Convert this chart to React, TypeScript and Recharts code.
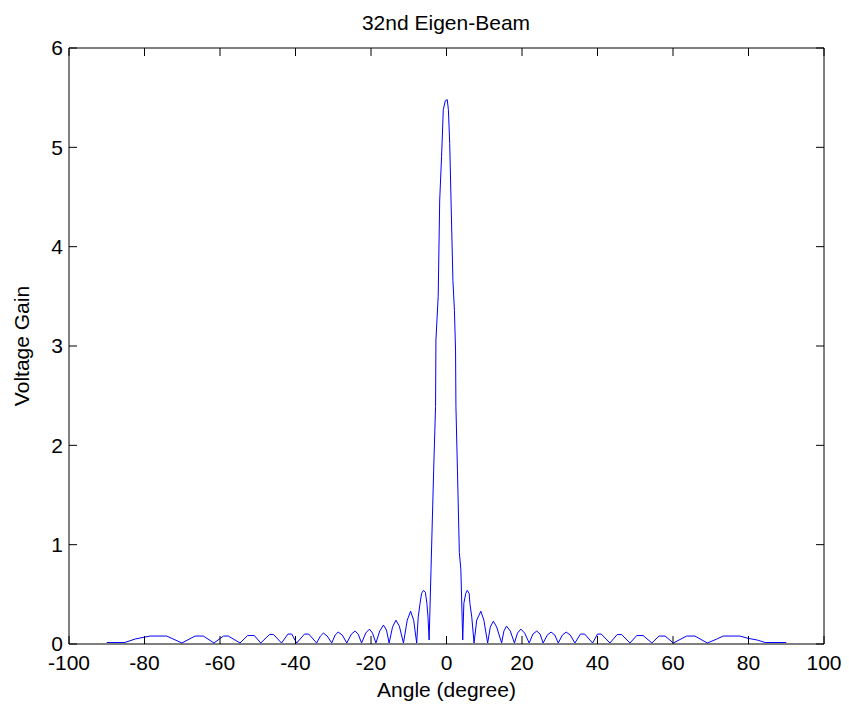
import { LineChart, Line, XAxis, YAxis } from 'recharts'

// angle samples (degree)
const angles = [
    -90.0, -85.2, -82.5, -81.2, -78.5, -74.1, -70.1, -66.6, -64.4, -61.6,
    -59.1, -57.8, -54.7, -52.7, -50.9, -49.2, -46.9, -45.8, -43.7, -42.0,
    -41.0, -39.7, -37.6, -36.5, -34.4, -33.4, -32.6, -31.6, -30.4, -29.5,
    -28.7, -27.6, -26.4, -25.2, -24.2, -23.4, -22.5, -21.4, -20.4, -19.6,
    -18.7, -17.7, -16.7, -15.9, -15.2, -14.3, -13.4, -12.5, -11.4, -10.4,
    -9.5, -8.7, -7.9, -7.5, -7.0, -6.6, -6.1, -5.6, -5.2, -4.9,
    -4.6, -4.1, -3.4, -2.9, -2.8, -2.2, -1.8, -1.3, -0.85, -0.3,
    0.2, 0.5, 0.85, 1.2, 1.7, 2.1, 2.4, 2.5, 2.9, 3.4,
    3.8, 4.3, 4.6, 5.1, 5.5, 6.0, 6.2, 6.7, 7.3, 8.0,
    9.1, 9.9, 10.9, 11.6, 12.4, 13.3, 14.6, 15.2, 15.9, 16.9,
    18.0, 18.8, 19.7, 20.7, 21.9, 22.9, 23.9, 24.8, 25.6, 26.7,
    27.7, 28.7, 29.6, 30.7, 31.7, 32.8, 34.0, 35.5, 36.6, 38.7,
    40.0, 41.0, 43.3, 45.2, 46.4, 48.6, 50.4, 52.1, 54.4, 56.3,
    57.9, 60.1, 63.6, 65.8, 69.1, 71.6, 73.3, 77.7, 79.9, 82.3,
    84.4, 90.0,
]

// voltage gain at each angle
const gains = [
    0.015, 0.015, 0.05, 0.06, 0.08, 0.08, 0.01, 0.08, 0.08, 0.01,
    0.08, 0.08, 0.01, 0.085, 0.085, 0.01, 0.095, 0.095, 0.01, 0.10,
    0.10, 0.01, 0.10, 0.10, 0.01, 0.08, 0.11, 0.08, 0.01, 0.09,
    0.12, 0.09, 0.01, 0.10, 0.13, 0.10, 0.01, 0.11, 0.15, 0.11,
    0.01, 0.13, 0.19, 0.14, 0.01, 0.17, 0.24, 0.18, 0.01, 0.24,
    0.33, 0.24, 0.01, 0.27, 0.41, 0.51, 0.54, 0.52, 0.41, 0.27,
    0.04, 0.75, 1.75, 2.39, 3.06, 3.5, 4.47, 4.91, 5.38, 5.47,
    5.48, 5.38, 5.04, 4.47, 3.66, 3.36, 2.95, 2.39, 1.75, 0.92,
    0.75, 0.04, 0.41, 0.51, 0.54, 0.51, 0.41, 0.27, 0.01, 0.24,
    0.33, 0.24, 0.01, 0.17, 0.23, 0.17, 0.01, 0.13, 0.18, 0.13,
    0.01, 0.11, 0.15, 0.11, 0.01, 0.10, 0.13, 0.10, 0.01, 0.09,
    0.12, 0.09, 0.01, 0.09, 0.12, 0.09, 0.01, 0.10, 0.10, 0.01,
    0.10, 0.10, 0.01, 0.095, 0.095, 0.01, 0.085, 0.085, 0.01, 0.08,
    0.08, 0.01, 0.08, 0.08, 0.01, 0.05, 0.08, 0.08, 0.057, 0.04,
    0.015, 0.015,
]

const xTicks = [-100, -80, -60, -40, -20, 0, 20, 40, 60, 80, 100]
const yTicks = [0, 1, 2, 3, 4, 5, 6]

const data = angles.map((a, i) => ({ angle: a, gain: gains[i] }))

const font = '"Liberation Sans", Arial, sans-serif'
const fs = 21
const tickStyle = { fill: '#000', fontSize: fs, fontFamily: font }
const noLabel = () => ''

export default function App() {
    return (
        <div style={{ position: 'absolute', left: 0, top: 0, width: 849, height: 711, background: '#fff' }}>
            <LineChart
                width={849}
                height={711}
                data={data}
                margin={{ top: 47, right: 24, bottom: 0, left: 0 }}
            >
                <XAxis
                    xAxisId="bottom"
                    dataKey="angle"
                    type="number"
                    domain={[-100, 100]}
                    ticks={xTicks}
                    allowDataOverflow
                    height={67}
                    stroke="#000"
                    tick={tickStyle}
                    tickSize={-8}
                    tickMargin={19}
                    label={{ value: 'Angle (degree)', position: 'insideBottom', offset: 14, fill: '#000', fontSize: fs, fontFamily: font }}
                />
                <XAxis
                    xAxisId="top"
                    dataKey="angle"
                    orientation="top"
                    type="number"
                    domain={[-100, 100]}
                    ticks={xTicks}
                    allowDataOverflow
                    height={1}
                    stroke="#000"
                    tick={tickStyle}
                    tickFormatter={noLabel}
                    tickSize={-8}
                />
                <YAxis
                    yAxisId="left"
                    type="number"
                    domain={[0, 6]}
                    ticks={yTicks}
                    width={69}
                    stroke="#000"
                    tick={tickStyle}
                    tickSize={-8}
                    tickMargin={14}
                    label={{ value: 'Voltage Gain', angle: -90, position: 'insideLeft', offset: 22, fill: '#000', fontSize: fs, fontFamily: font, style: { textAnchor: 'middle' } }}
                />
                <YAxis
                    yAxisId="right"
                    orientation="right"
                    type="number"
                    domain={[0, 6]}
                    ticks={yTicks}
                    width={1}
                    stroke="#000"
                    tick={tickStyle}
                    tickFormatter={noLabel}
                    tickSize={-8}
                />
                <Line
                    xAxisId="top"
                    yAxisId="right"
                    type="linear"
                    dataKey="gain"
                    stroke="none"
                    dot={false}
                    activeDot={false}
                    legendType="none"
                    isAnimationActive={false}
                />
                <Line
                    xAxisId="bottom"
                    yAxisId="left"
                    type="linear"
                    dataKey="gain"
                    stroke="#0000ff"
                    strokeWidth={1}
                    dot={false}
                    isAnimationActive={false}
                />
                <text x={446} y={30} textAnchor="middle" fontSize={fs} fontFamily={font} fill="#000">
                    32nd Eigen-Beam
                </text>
            </LineChart>
        </div>
    )
}
